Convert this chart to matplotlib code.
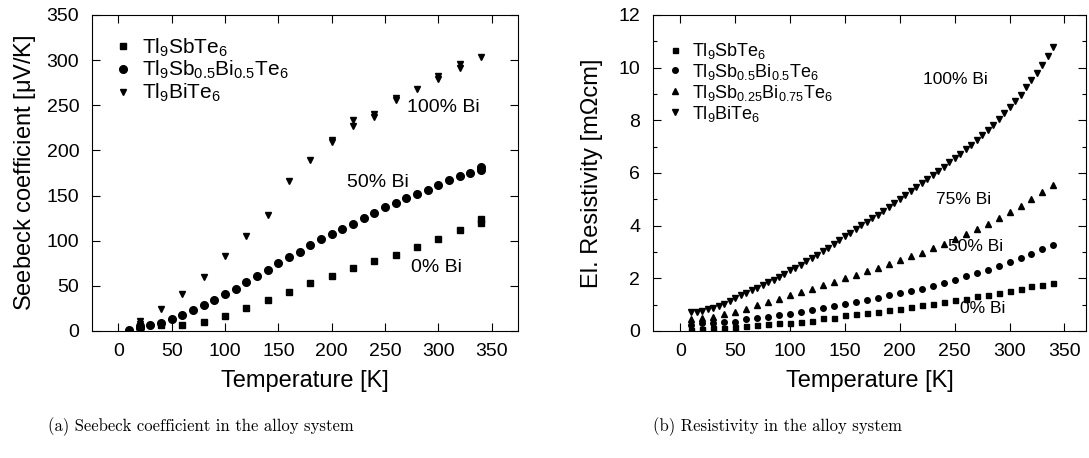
import matplotlib
matplotlib.use('Agg')
import matplotlib.pyplot as plt

plt.rcParams['font.family'] = ['Liberation Sans', 'DejaVu Sans']
plt.rcParams['mathtext.fontset'] = 'custom'
plt.rcParams['mathtext.rm'] = 'Liberation Sans'
plt.rcParams['mathtext.it'] = 'Liberation Sans'
plt.rcParams['mathtext.default'] = 'regular'

# (a) Seebeck coefficient [uV/K] vs temperature [K]
T_sb = [20, 40, 60, 80, 100, 120, 140, 160, 180, 200, 220, 240, 260, 280,
        300, 320, 340, 340]
S_sb = [5, 7, 6.5, 9.6, 16.7, 25, 34, 43.7, 53, 60.7, 69.6, 77.4, 84, 93,
        102, 111.5, 120, 123.5]

T_50 = [10, 20, 20, 30, 40, 50, 60, 70, 80, 90, 100, 110, 120, 130, 140,
        150, 160, 170, 180, 190, 200, 210, 220, 230, 240, 250, 260, 270,
        280, 290, 300, 310, 320, 330, 340, 340]
S_50 = [1, 3.7, 5, 6.7, 9, 13, 17.8, 23, 29, 34.4, 40.7, 47, 54, 60.7, 68,
        75, 82, 88, 95, 101.5, 107.4, 113, 119, 125, 130.7, 137, 142,
        147.4, 151.5, 156.3, 161.5, 166.7, 171.5, 174.8, 178, 181.5]

T_bi = [20, 20, 40, 60, 80, 100, 120, 140, 160, 180, 200, 200, 220, 220,
        240, 240, 260, 260, 280, 300, 300, 320, 320, 340]
S_bi = [8, 11.5, 24.4, 40.7, 59.6, 83, 105, 128, 166, 189, 209, 212, 227,
        233.7, 237, 240.7, 256, 258, 268, 279, 282.6, 291.5, 295.6, 303]

# (b) electrical resistivity [mOhm cm] vs temperature [K]
T_r = [10, 20, 30, 40, 50, 60, 70, 80, 90, 100, 110, 120, 130, 140, 150,
       160, 170, 180, 190, 200, 210, 220, 230, 240, 250, 260, 270, 280,
       290, 300, 310, 320, 330, 340]
R_sb = [0.04, 0.06, 0.10, 0.13, 0.15, 0.19, 0.23, 0.28, 0.30, 0.32, 0.36,
        0.39, 0.48, 0.51, 0.61, 0.65, 0.70, 0.74, 0.80, 0.84, 0.90, 0.99,
        1.03, 1.12, 1.18, 1.22, 1.31, 1.37, 1.46, 1.52, 1.59, 1.69, 1.75,
        1.82]
R_50 = [0.23, 0.29, 0.32, 0.34, 0.36, 0.44, 0.48, 0.55, 0.61, 0.66, 0.71,
        0.80, 0.86, 0.95, 1.03, 1.09, 1.18, 1.27, 1.35, 1.43, 1.52, 1.60,
        1.71, 1.82, 1.94, 2.07, 2.20, 2.32, 2.45, 2.62, 2.77, 2.93, 3.11,
        3.28]
R_75 = [0.44, 0.48, 0.55, 0.63, 0.74, 0.84, 0.97, 1.09, 1.22, 1.35, 1.47,
        1.60, 1.73, 1.85, 2.00, 2.13, 2.26, 2.41, 2.55, 2.70, 2.83, 2.98,
        3.15, 3.31, 3.49, 3.68, 3.87, 4.08, 4.29, 4.52, 4.76, 5.02, 5.27,
        5.54]
T_rbi = [10, 15, 20, 25, 30, 35, 40, 45, 50, 55, 60, 65, 70, 75, 80, 85,
         90, 95, 100, 105, 110, 115, 120, 125, 130, 135, 140, 145, 150,
         155, 160, 165, 170, 175, 180, 185, 190, 195, 200, 205, 210, 215,
         220, 225, 230, 235, 240, 245, 250, 255, 260, 265, 270, 275, 280,
         285, 290, 295, 300, 305, 310, 315, 320, 325, 330, 335, 340]
R_bi = [0.72, 0.73, 0.76, 0.82, 0.88, 0.95, 1.02, 1.13, 1.25, 1.35, 1.45,
        1.55, 1.65, 1.75, 1.85, 1.95, 2.05, 2.17, 2.30, 2.41, 2.52, 2.65,
        2.78, 2.90, 3.03, 3.16, 3.30, 3.45, 3.60, 3.74, 3.88, 4.01, 4.15,
        4.28, 4.42, 4.57, 4.72, 4.87, 5.02, 5.17, 5.32, 5.47, 5.62, 5.77,
        5.92, 6.08, 6.24, 6.40, 6.56, 6.73, 6.90, 7.08, 7.26, 7.45, 7.64,
        7.84, 8.05, 8.27, 8.50, 8.74, 8.98, 9.25, 9.52, 9.81, 10.10, 10.44,
        10.78]

lab_sb = r'Tl$_9$SbTe$_6$'
lab_50 = r'Tl$_9$Sb$_{0.5}$Bi$_{0.5}$Te$_6$'
lab_75 = r'Tl$_9$Sb$_{0.25}$Bi$_{0.75}$Te$_6$'
lab_bi = r'Tl$_9$BiTe$_6$'

fig = plt.figure(figsize=(10.89, 4.58), dpi=100)
ax1 = fig.add_axes([0.0842, 0.2773, 0.3918, 0.69])
ax2 = fig.add_axes([0.5994, 0.2773, 0.3982, 0.69])

ax1.plot(T_sb, S_sb, 's', color='black', ms=5, label=lab_sb)
ax1.plot(T_50, S_50, 'o', color='black', ms=5.5, label=lab_50)
ax1.plot(T_bi, S_bi, 'v', color='black', ms=5, label=lab_bi)
ax1.set_xlim(-25, 375)
ax1.set_ylim(0, 350)
ax1.set_yticks(range(0, 351, 50))
ax1.set_ylabel(r'Seebeck coefficient [$\mu$V/K]', fontsize=17, labelpad=6)
ax1.text(271, 248, '100% Bi', fontsize=14, va='center')
ax1.text(214, 164, '50% Bi', fontsize=14, va='center')
ax1.text(274, 70, '0% Bi', fontsize=14, va='center')
ax1.legend(loc='upper left', bbox_to_anchor=(0.054, 0.932), frameon=False,
           fontsize=15, handlelength=0.8, handletextpad=0.5,
           labelspacing=0.02, borderpad=0, borderaxespad=0)

ax2.plot(T_r, R_sb, 's', color='black', ms=3.6, label=lab_sb)
ax2.plot(T_r, R_50, 'o', color='black', ms=4, label=lab_50)
ax2.plot(T_r, R_75, '^', color='black', ms=4, label=lab_75)
ax2.plot(T_rbi, R_bi, 'v', color='black', ms=4, label=lab_bi)
ax2.set_xlim(-25, 370)
ax2.set_ylim(0, 12)
ax2.set_yticks(range(0, 13, 2))
ax2.set_yticks(range(1, 12, 2), minor=True)
ax2.set_ylabel('El. Resistivity [m\u03a9cm]', fontsize=17, labelpad=11)
ax2.text(221, 9.56, '100% Bi', fontsize=12.5, va='center')
ax2.text(233, 5.0, '75% Bi', fontsize=12.5, va='center')
ax2.text(244, 3.2, '50% Bi', fontsize=12.5, va='center')
ax2.text(255, 0.87, '0% Bi', fontsize=12.5, va='center')
ax2.legend(loc='upper left', bbox_to_anchor=(0.035, 0.918), frameon=False,
           fontsize=13, handlelength=0.8, handletextpad=0.55,
           labelspacing=0.05, borderpad=0, borderaxespad=0)

for ax in (ax1, ax2):
    ax.set_xticks(range(0, 351, 50))
    ax.set_xlabel('Temperature [K]', fontsize=17, labelpad=7)
    ax.tick_params(direction='in', top=True, right=True, length=6,
                   width=0.8, labelsize=14, pad=9)
    ax.tick_params(which='minor', direction='in', right=True, left=True,
                   length=3, width=0.8)
    for s in ax.spines.values():
        s.set_linewidth(0.8)

fig.text(0.184, 0.068, '(a) Seebeck coefficient in the alloy system',
         family='cmr10', fontsize=12, ha='center', va='center')
fig.text(0.714, 0.068, '(b) Resistivity in the alloy system',
         family='cmr10', fontsize=12, ha='center', va='center')

fig.savefig('out.png', dpi=100)
